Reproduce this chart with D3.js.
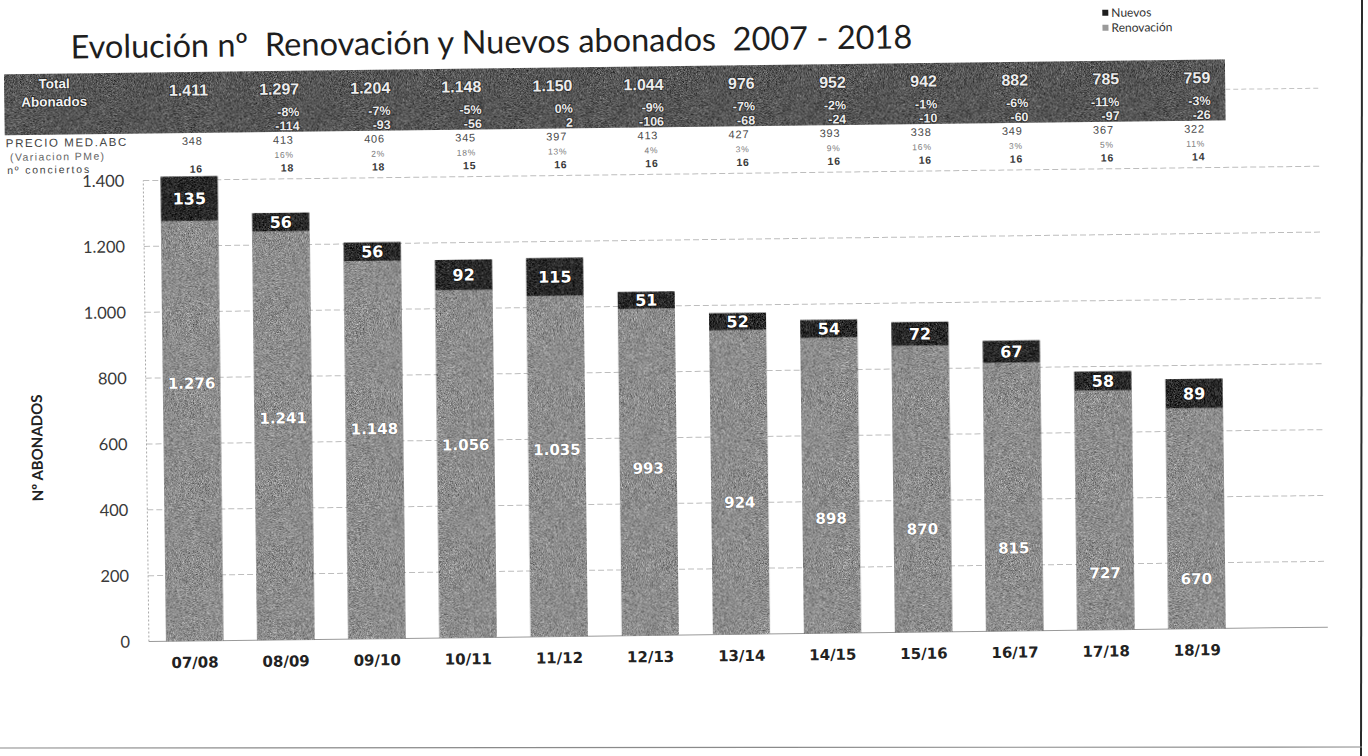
<!DOCTYPE html>
<html>
<head>
<meta charset="utf-8">
<script src="https://cdn.jsdelivr.net/npm/d3@7"></script>
<style>
  html, body { margin: 0; padding: 0; background: #ffffff; }
  svg { display: block; }
</style>
</head>
<body>
<svg id="chart" width="1368" height="756"></svg>
<script>
// Temporadas y abonados (renovación + nuevos)
const seasons = ["07/08", "08/09", "09/10", "10/11", "11/12", "12/13", "13/14", "14/15", "15/16", "16/17", "17/18", "18/19"];
const renovacion = [1276, 1241, 1148, 1056, 1035, 993, 924, 898, 870, 815, 727, 670];
const nuevos = [135, 56, 56, 92, 115, 51, 52, 54, 72, 67, 58, 89];

// Filas de la tabla superior
const totalAbonados = [1411, 1297, 1204, 1148, 1150, 1044, 976, 952, 942, 882, 785, 759];
const variacionPct = ["", "-8%", "-7%", "-5%", "0%", "-9%", "-7%", "-2%", "-1%", "-6%", "-11%", "-3%"];
const variacionAbs = ["", "-114", "-93", "-56", "2", "-106", "-68", "-24", "-10", "-60", "-97", "-26"];
const precioMedio = [348, 413, 406, 345, 397, 413, 427, 393, 338, 349, 367, 322];
const variacionPMe = ["", "16%", "2%", "18%", "13%", "4%", "3%", "9%", "16%", "3%", "5%", "11%"];
const conciertos = [16, 18, 18, 15, 16, 16, 16, 16, 16, 16, 16, 14];

// Eje vertical
const yTicks = [0, 200, 400, 600, 800, 1000, 1200, 1400];

const seriesNames = ["Nuevos", "Renovación"];

// ---------------------------------------------------------------
const fmt = d3.formatLocale({ decimal: ",", thousands: ".", grouping: [3], currency: ["", " €"] }).format(",d");

const svg = d3.select("#chart");
const W = 1368, H = 756;

// grano de fotocopia para las superficies rellenas
const defs = svg.append("defs");
const grain = defs.append("filter").attr("id", "grain")
  .attr("filterUnits", "userSpaceOnUse").attr("x", 0).attr("y", 0).attr("width", W).attr("height", H)
  .attr("color-interpolation-filters", "sRGB");
grain.append("feTurbulence").attr("type", "fractalNoise").attr("baseFrequency", 1.3)
  .attr("numOctaves", 2).attr("seed", 5).attr("result", "t");
grain.append("feColorMatrix").attr("in", "t").attr("type", "matrix")
  .attr("values", "0.33 0.33 0.33 0 0  0.33 0.33 0.33 0 0  0.33 0.33 0.33 0 0  0 0 0 0 1").attr("result", "m");
grain.append("feComposite").attr("in", "SourceGraphic").attr("in2", "m").attr("operator", "arithmetic")
  .attr("k1", 0).attr("k2", 1).attr("k3", 1.3).attr("k4", -0.65).attr("result", "s");
grain.append("feComposite").attr("in", "s").attr("in2", "SourceGraphic").attr("operator", "in");

// hoja ligeramente girada
const page = svg.append("g").attr("transform", "rotate(-0.7,684,400)");

const x = d3.scaleBand().domain(seasons).range([146, 1240]).paddingInner(0.374).paddingOuter(0.19);
const y = d3.scaleLinear().domain([0, 1400]).range([635, 174]);
const color = d3.scaleOrdinal().domain(seriesNames).range(["#2a2a2a", "#8e8e8e"]);

// rejilla
const grid = page.append("g");
grid.selectAll("line.h").data(yTicks).join("line")
  .attr("x1", 146).attr("x2", 1325)
  .attr("y1", d => y(d)).attr("y2", d => y(d))
  .attr("stroke", d => d === 0 ? "#9a9a9a" : "#bdbdbd")
  .attr("stroke-width", 1)
  .attr("stroke-dasharray", d => d === 0 ? null : "6,3");
grid.append("line")
  .attr("x1", 146).attr("x2", 146).attr("y1", y(0)).attr("y2", y(1400))
  .attr("stroke", "#a8a8a8").attr("stroke-dasharray", "2,2");

// eje Y
const yAxis = page.append("g").attr("transform", "translate(146,0)")
  .call(d3.axisLeft(y).tickValues(yTicks).tickFormat(fmt).tickSize(0).tickPadding(19));
yAxis.select(".domain").remove();
yAxis.selectAll("text").attr("font-family", "Lato, 'Open Sans', sans-serif").attr("font-size", 16.5).attr("fill", "#3a3a3a");

// eje X
const xAxis = page.append("g").attr("transform", `translate(0,${y(0)})`)
  .call(d3.axisBottom(x).tickSize(0).tickPadding(16));
xAxis.select(".domain").remove();
xAxis.selectAll("text").attr("font-family", "'DejaVu Sans', Verdana, sans-serif").attr("font-weight", "bold")
  .attr("font-size", 15).attr("fill", "#222");

// barras apiladas
const rows = seasons.map((s, i) => ({ season: s, "Renovación": renovacion[i], "Nuevos": nuevos[i] }));
const stack = d3.stack().keys(["Renovación", "Nuevos"])(rows);
const bars = page.append("g").attr("filter", "url(#grain)");
bars.selectAll("g").data(stack).join("g")
  .attr("fill", d => color(d.key))
  .selectAll("rect").data(d => d).join("rect")
  .attr("x", d => x(d.data.season))
  .attr("width", x.bandwidth())
  .attr("y", d => y(d[1]))
  .attr("height", d => y(d[0]) - y(d[1]));

// etiquetas de "Nuevos", centradas en su tramo
const labels = page.append("g").attr("font-family", "'DejaVu Sans', Verdana, sans-serif").attr("font-weight", "bold")
  .attr("text-anchor", "middle").attr("fill", "#ffffff");
labels.selectAll("text.nv").data(stack[1]).join("text")
  .attr("class", "nv")
  .attr("x", d => x(d.data.season) + x.bandwidth() / 2)
  .attr("y", d => y((d[0] + d[1]) / 2))
  .attr("dy", "0.36em")
  .attr("font-size", 16)
  .attr("stroke", "#151515").attr("stroke-width", 1.6).attr("paint-order", "stroke")
  .text(d => fmt(d.data["Nuevos"]));

// etiquetas de "Renovación", a la altura (en abonados) donde se colocaron
const renovLabelLevel = [783, 674, 638, 586, 568, 508, 401, 349, 313, 252, 173, 152];
labels.selectAll("text.rv").data(stack[0]).join("text")
  .attr("class", "rv")
  .attr("x", d => x(d.data.season) + x.bandwidth() / 2)
  .attr("y", (d, i) => y(renovLabelLevel[i]))
  .attr("dy", "0.36em")
  .attr("font-size", 15)
  .attr("stroke", "#6a6a6a").attr("stroke-width", 1).attr("paint-order", "stroke")
  .text(d => fmt(d.data["Renovación"]));

// título
page.append("text").attr("x", 75).attr("y", 51)
  .attr("xml:space", "preserve").style("white-space", "pre")
  .attr("font-family", "Lato, 'Open Sans', sans-serif").attr("font-size", 32.5).attr("fill", "#1e1e1e")
  .text("Evolución nº  Renovación y Nuevos abonados  2007 - 2018");

// leyenda
const legend = page.append("g").attr("transform", "translate(1107,17)");
legend.selectAll("g").data(seriesNames).join("g")
  .attr("transform", (d, i) => `translate(0,${i * 15})`)
  .call(g => {
    g.append("rect").attr("width", 6).attr("height", 6).attr("y", -2).attr("fill", d => d === "Nuevos" ? "#1e1e1e" : "#9a9a9a");
    g.append("text").attr("x", 9).attr("y", 1).attr("dy", "0.35em")
      .attr("font-family", "Lato, 'Open Sans', sans-serif").attr("font-size", 12).attr("fill", "#333")
      .text(d => d);
  });

// título del eje Y
page.append("text")
  .attr("transform", "translate(42,440) rotate(-90)")
  .attr("text-anchor", "middle")
  .attr("font-family", "Lato, 'Open Sans', sans-serif").attr("font-weight", "bold").attr("font-size", 15).attr("fill", "#222")
  .text("Nº ABONADOS");

// tabla superior
const table = page.append("g");
table.append("rect").attr("x", 8).attr("y", 66).attr("width", 1221).attr("height", 61)
  .attr("fill", "#575757").attr("filter", "url(#grain)");
table.append("line").attr("x1", 1229).attr("x2", 1325).attr("y1", 96).attr("y2", 96)
  .attr("stroke", "#c4c4c4").attr("stroke-dasharray", "5,3");

const head = table.append("g").attr("font-family", "'Liberation Sans', Arial, sans-serif").attr("font-weight", "bold")
  .attr("fill", "#f2f2f2").attr("stroke", "#222").attr("stroke-width", 1.6).attr("paint-order", "stroke")
  .attr("text-anchor", "middle").attr("font-size", 13.5);
head.append("text").attr("x", 58).attr("y", 76).attr("dy", "0.35em").text("Total");
head.append("text").attr("x", 58).attr("y", 94).attr("dy", "0.35em").text("Abonados");

const colRight = d => x(d) + x.bandwidth() / 2 + 20;
const darkRow = (vals, yy, size, f) => table.append("g")
  .attr("font-family", "'Liberation Sans', Arial, sans-serif").attr("font-weight", "bold")
  .attr("fill", "#ececec").attr("stroke", "#2a2a2a").attr("stroke-width", 1.6).attr("paint-order", "stroke")
  .attr("text-anchor", "end").attr("font-size", size)
  .selectAll("text").data(vals).join("text")
  .attr("x", (d, i) => colRight(seasons[i])).attr("y", yy).attr("dy", "0.35em")
  .text(f);
darkRow(totalAbonados, 84, 16, d => fmt(d));
darkRow(variacionPct, 107, 12.5, d => d);
darkRow(variacionAbs, 121, 12.5, d => d);

const lightRight = d => x(d) + x.bandwidth() / 2 + 14;
const lightRow = (vals, yy, size, fill, weight, f) => table.append("g")
  .attr("font-family", "'Liberation Sans', Arial, sans-serif").attr("font-weight", weight)
  .attr("fill", fill).attr("text-anchor", "end").attr("font-size", size).attr("letter-spacing", "0.8")
  .selectAll("text").data(vals).join("text")
  .attr("x", (d, i) => lightRight(seasons[i])).attr("y", yy).attr("dy", "0.35em")
  .text(f);
lightRow(precioMedio, 135, 11, "#4a4a4a", "normal", d => d);
lightRow(variacionPMe, 150, 8.5, "#7a7a7a", "normal", d => d);
lightRow(conciertos, 163, 10.5, "#3a3a3a", "bold", d => d);

const side = table.append("g").attr("font-family", "'Liberation Sans', Arial, sans-serif")
  .attr("fill", "#444");
side.append("text").attr("x", 9).attr("y", 135).attr("dy", "0.35em").attr("font-size", 11.5).attr("letter-spacing", "1.6").text("PRECIO MED.ABC");
side.append("text").attr("x", 13).attr("y", 149).attr("dy", "0.35em").attr("font-size", 10.5).attr("letter-spacing", "1.4").attr("fill", "#666").text("(Variacion PMe)");
side.append("text").attr("x", 10).attr("y", 162).attr("dy", "0.35em").attr("font-size", 10.5).attr("letter-spacing", "1.8").text("nº conciertos");

// bordes de la hoja
svg.append("line").attr("x1", 1362).attr("x2", 1361).attr("y1", 0).attr("y2", H)
  .attr("stroke", "#2a2a2a").attr("stroke-width", 2);
svg.append("line").attr("x1", 0).attr("x2", 1362).attr("y1", 748).attr("y2", 747)
  .attr("stroke", "#8a8a8a").attr("stroke-width", 1.2);
</script>
</body>
</html>
